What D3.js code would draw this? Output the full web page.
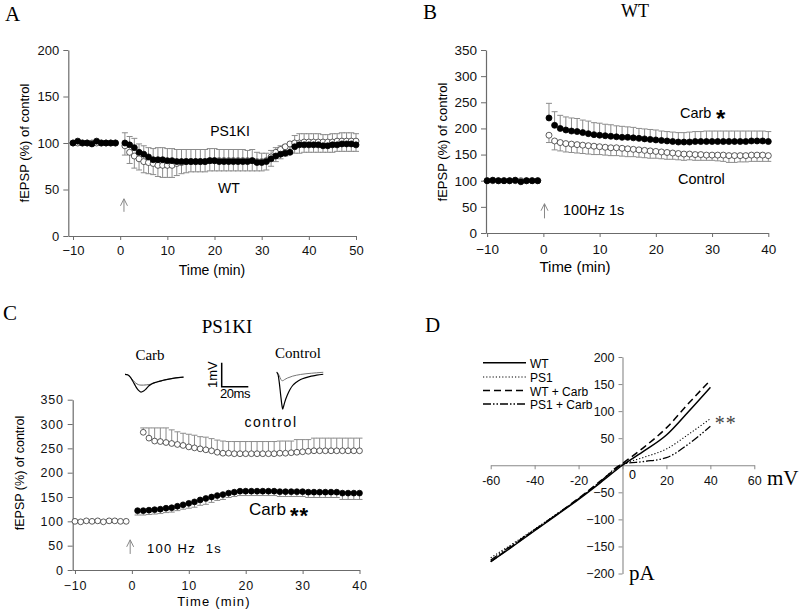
<!DOCTYPE html>
<html><head><meta charset="utf-8">
<script src="https://cdn.jsdelivr.net/npm/d3@7"></script>
<style>body{margin:0;background:#fff}</style>
</head><body>
<script>
// ---------------- DATA ----------------
const baseT = [-10,-9,-8,-7,-6,-5,-4,-3,-2,-1];
const tA = [1,2,3,4,5,6,7,8,9,10,11,12,13,14,15,16,17,18,19,20,21,22,23,24,25,26,27,28,29,30,31,32,33,34,35,36,37,38,39,40,41,42,43,44,45,46,47,48,49,50];
const t40 = [1,2,3,4,5,6,7,8,9,10,11,12,13,14,15,16,17,18,19,20,21,22,23,24,25,26,27,28,29,30,31,32,33,34,35,36,37,38,39,40];
const t40from2 = [2,3,4,5,6,7,8,9,10,11,12,13,14,15,16,17,18,19,20,21,22,23,24,25,26,27,28,29,30,31,32,33,34,35,36,37,38,39,40];

// Panel A
const A_ps1ki_base = [100,102,100,100,99,102,100,100,100,100];
const A_wt_base    = [100,100,100,100,100,100,100,100,100,100];
const A_ps1ki = [100,98,95,90,88,85,82,82,82,81, 81,80,80,80,80,80,80,80,81,81, 80,80,80,80,80,80,80,81,79,79, 80,83,86,88,89,90,96,98,98,98, 98,98,97,97,98,98,99,99,99,98];
const A_ps1ki_err = [11,9,10,9,9,10,12,13,13,13, 13,13,13,13,13,13,13,13,13,13, 13,13,13,13,13,13,12,12,11,10, 9,9,9,9,9,9,12,12,12,12, 12,12,12,12,12,12,12,12,12,12];
const A_wt = [97,90,86,83,80,79,78,76,76,76, 76,78,79,80,80,80,80,80,81,81, 81,81,81,81,81,81,81,81,80,80, 81,85,90,93,96,99,100,100,101,101, 101,101,101,101,101,102,102,102,102,102];
const A_wt_err = [10,12,13,12,12,12,12,12,13,13, 13,13,12,12,11,11,11,11,11,11, 11,11,11,11,11,11,11,11,10,10, 10,10,10,10,10,10,11,11,11,11, 11,11,11,11,11,11,11,11,11,11];
const A_xticks = [-10,0,10,20,30,40,50];
const A_yticks = [0,50,100,150,200];

// Panel B (WT)
const B_carb_base = [100,101,100,100,100,101,98,100,100,100];
const B_ctrl_base = [100,100,100,100,100,100,100,100,100,100];
const B_carb = [220,206,200,197,195,194,192,190,188,187, 186,185,184,183,183,182,181,180,179,178, 177,176,175,174,174,174,175,175,175,175, 175,175,175,175,175,175,176,176,176,175];
const B_carb_err = [28,26,25,25,25,25,24,24,23,23, 22,22,21,21,20,20,19,19,19,19, 18,18,18,18,18,19,19,19,20,20, 20,20,20,20,20,20,19,19,19,19];
const B_ctrl = [187,176,173,171,170,169,168,167,166,165, 164,163,163,162,161,160,159,158,157,156, 155,154,153,152,151,151,150,150,149,149, 149,149,148,148,148,148,149,149,149,148];
const B_ctrl_err = [14,17,16,16,16,16,16,16,16,15, 15,15,15,15,15,14,14,14,14,13, 13,13,12,12,12,11,11,11,10,10, 11,12,13,13,12,12,12,12,12,11];
const B_xticks = [-10,0,10,20,30,40];
const B_yticks = [0,50,100,150,200,250,300,350];

// Panel C (PS1KI)
const C_ctrl_base = [100,99,101,100,101,99,101,101,100,100];
const C_ctrl = [283,271,265,264,262,260,258,256,253,251,249,247,245,242,240,240, 239,239,239,239,239,239,239,239,240,240,241, 242,243,244, 245,245,245,245,245,245,245,245,245];
const C_ctrl_err = [9,21,27,28,30,28,26,25,26,26,25,26,25,25,25,24, 25,25,25,25,25,25,25,25, 25,25,24, 26,25,24, 26,26,26,26,26,26,26,26,26];
const C_carb = [122,122,123,124,125,127,128,131,134,137, 140,144,147,150,153,155,158,160,162,162, 162,162,162,162,162,161,161,161,161,161, 160,160,160,160,160,160,158,158,158,158];
const C_carb_err = [9,9,9,9,9,9,9,9,9,10, 11,11,12,11,10,10,9,9,9,9, 9,9,9,9,9,10,10,10,10,10, 11,11,11,11,11,11,13,13,13,13];
const C_xticks = [-10,0,10,20,30,40];
const C_yticks = [0,50,100,150,200,250,300,350];

// Inset traces (ms, mV)
const carbTraceT = [0,2,4,6,8,10,12,14,16,18,20,24,28,32,36,40,44];
const carbTraceAfter  = [0,-0.02,-0.12,-0.3,-0.5,-0.66,-0.74,-0.7,-0.6,-0.48,-0.4,-0.32,-0.26,-0.21,-0.17,-0.14,-0.12];
const carbTraceBefore = [0,-0.03,-0.12,-0.25,-0.36,-0.43,-0.45,-0.45,-0.44,-0.43,-0.4,-0.32,-0.26,-0.21,-0.17,-0.14,-0.12];
const ctrlTraceT = [0,1,2,3,4,4.5,5,6,8,10,12,15,18,22,26,30,35];
const ctrlTraceAfter  = [0,-0.1,-0.45,-0.95,-1.4,-1.54,-1.45,-1.25,-0.95,-0.72,-0.55,-0.4,-0.3,-0.22,-0.16,-0.12,-0.08];
const ctrlTraceBefore = [0,-0.05,-0.15,-0.28,-0.35,-0.35,-0.34,-0.3,-0.24,-0.2,-0.16,-0.12,-0.09,-0.06,-0.04,-0.02,0];

// Panel D (I-V)
const D_mV = [-60,-50,-40,-30,-20,-10,0,10,20,30,40];
const D_WT      = [-178,-150,-121,-92,-63,-32,0,27,56,99,144];
const D_PS1     = [-171,-145,-118,-90,-62,-31,1,15,30,57,86];
const D_WTcarb  = [-178,-149,-120,-91,-61,-29,3,34,69,114,157];
const D_PS1carb = [-175,-147,-119,-91,-62,-30,2,7,14,39,72];
const D_names = ["WT","PS1","WT + Carb","PS1 + Carb"];
const D_xticks = [-60,-40,-20,20,40,60];
const D_yticks = [-200,-150,-100,-50,50,100,150,200];

// ---------------- DRAWING ----------------
const SANS = "'Liberation Sans', Arial, sans-serif";
const SERIF = "'Liberation Serif', 'Times New Roman', serif";
const AX = "#6b6b6b", EB = "#8c8c8c";

const svg = d3.select("body").append("svg").attr("width",800).attr("height",612)
  .style("background","#fff");

function txt(x,y,s,size,fam,anchor,extra){
  const t = svg.append("text").attr("x",x).attr("y",y).text(s)
    .attr("font-size",size).attr("font-family",fam||SANS)
    .attr("text-anchor",anchor||"start").attr("fill","#000");
  if(extra) extra(t);
  return t;
}

function axes(x,y,xt,yt,opt){
  const gx = svg.append("g").attr("transform",`translate(0,${y(0)})`)
    .call(d3.axisBottom(x).tickValues(xt).tickSize(4).tickSizeOuter(0).tickPadding(opt.xpad));
  const gy = svg.append("g").attr("transform",`translate(${x.range()[0]},0)`)
    .call(d3.axisLeft(y).tickValues(yt).tickSize(5).tickSizeOuter(0).tickPadding(4));
  [gx,gy].forEach(g=>{
    g.attr("font-family",SANS).attr("font-size",opt.fs);
    g.select(".domain").attr("stroke",AX).attr("stroke-width",1.2);
    g.selectAll(".tick line").attr("stroke",AX);
    g.selectAll(".tick text").attr("fill","#111");
    if(opt.ls) g.selectAll(".tick text").attr("letter-spacing",opt.ls);
  });
}

function errBars(x,y,ts,vs,es,dir){
  const g = svg.append("g").attr("stroke",EB).attr("stroke-width",1).attr("fill","none");
  ts.forEach((t,i)=>{
    const y0 = y(vs[i]), y1 = y(vs[i]+dir*es[i]), xx = x(t);
    g.append("line").attr("x1",xx).attr("x2",xx).attr("y1",y0).attr("y2",y1);
    g.append("line").attr("x1",xx-3).attr("x2",xx+3).attr("y1",y1).attr("y2",y1);
  });
}
function dots(x,y,ts,vs,filled,r){
  svg.append("g").selectAll("circle").data(ts).join("circle")
    .attr("cx",d=>x(d)).attr("cy",(d,i)=>y(vs[i])).attr("r",r||3.0)
    .attr("fill",filled?"#000":"#fff").attr("stroke",filled?"#000":"#333").attr("stroke-width",0.8);
}
function arrow(x,y,t,v0,v1){
  const g = svg.append("g").attr("stroke","#888").attr("stroke-width",1).attr("fill","none");
  const xx=x(t), yb=y(v0), yt=y(v1);
  g.append("line").attr("x1",xx).attr("x2",xx).attr("y1",yb).attr("y2",yt);
  g.append("path").attr("d",`M${xx-3.5},${yt+7}L${xx},${yt}L${xx+3.5},${yt+7}`);
}
function yTitle(cx,cy,size){
  svg.append("text").attr("transform",`translate(${cx},${cy}) rotate(-90)`)
    .attr("text-anchor","middle").attr("dy","0.35em").attr("font-size",size)
    .attr("font-family",SANS).text("fEPSP (%) of control");
}

// ===== Panel A =====
{
  const x = d3.scaleLinear().domain([-11,50]).range([68.3,356]);
  const y = d3.scaleLinear().domain([0,200]).range([236,50]);
  axes(x,y,A_xticks,A_yticks,{xpad:6,fs:13});
  errBars(x,y,tA,A_wt,A_wt_err,-1);
  errBars(x,y,tA,A_ps1ki,A_ps1ki_err,1);
  dots(x,y,baseT,A_wt_base,false);
  dots(x,y,tA,A_wt,false);
  dots(x,y,baseT,A_ps1ki_base,true);
  dots(x,y,tA,A_ps1ki,true);
  arrow(x,y,0.8,26,40);
  txt(5,21,"A",21,SERIF);
  txt(230,136,"PS1KI",14,SANS,"middle");
  txt(229,193,"WT",14,SANS,"middle");
  txt(212,275,"Time (min)",14,SANS,"middle");
  yTitle(24,143,13);
}

// ===== Panel B =====
{
  const x = d3.scaleLinear().domain([-10.2,40]).range([486,768.3]);
  const y = d3.scaleLinear().domain([0,350]).range([233,50]);
  axes(x,y,B_xticks,B_yticks,{xpad:7,fs:13.5});
  errBars(x,y,t40,B_ctrl,B_ctrl_err,-1);
  errBars(x,y,t40,B_carb,B_carb_err,1);
  dots(x,y,baseT,B_ctrl_base,false);
  dots(x,y,t40,B_ctrl,false);
  dots(x,y,baseT,B_carb_base,true);
  dots(x,y,t40,B_carb,true);
  arrow(x,y,0.2,28,56);
  txt(423,19,"B",21,SERIF);
  txt(635,17,"WT",18,SERIF,"middle");
  txt(680,118,"Carb",14.5,SANS);
  txt(716,127,"*",24,SANS,"start",t=>t.attr("font-weight","bold"));
  txt(678,184,"Control",14.5,SANS);
  txt(563,215,"100Hz 1s",14.5,SANS);
  txt(575,272,"Time (min)",15,SANS,"middle");
  yTitle(442,142,13);
}

// ===== Panel C =====
{
  const x = d3.scaleLinear().domain([-10.4,40]).range([72.7,359.5]);
  const y = d3.scaleLinear().domain([0,350]).range([570,399.7]);
  axes(x,y,C_xticks,C_yticks,{xpad:7,fs:12.5,ls:"0.8px"});
  errBars(x,y,t40from2,C_ctrl,C_ctrl_err,1);
  errBars(x,y,t40,C_carb,C_carb_err,-1);
  dots(x,y,t40from2,C_ctrl,false,2.9);
  dots(x,y,t40,C_carb,true,2.9);
  dots(x,y,baseT,C_ctrl_base,false,2.9);
  arrow(x,y,-0.3,33,62);
  txt(3,320,"C",21,SERIF);
  txt(227,333,"PS1KI",19,SERIF,"middle");
  txt(271,427,"control",14,SANS,"middle",t=>t.attr("letter-spacing","1.6px"));
  txt(249,515,"Carb",17,SANS);
  txt(290,523,"**",22,SANS,"start",t=>t.attr("font-weight","bold").attr("letter-spacing","1px"));
  txt(147,553,"100 Hz  1s",13,SANS,"start",t=>t.attr("letter-spacing","1.3px").style("white-space","pre"));
  txt(214,606,"Time (min)",13,SANS,"middle",t=>t.attr("letter-spacing","1.2px"));
  yTitle(20,473,12.5);

  // Insets: traces
  const msPx = 1.33, mvPx = 24;
  const tx1 = d3.scaleLinear().domain([0,1]).range([125,125+msPx]);
  const ty1 = d3.scaleLinear().domain([0,1]).range([374.3,374.3-mvPx]);
  const tx2 = d3.scaleLinear().domain([0,1]).range([276.7,276.7+msPx]);
  const ty2 = d3.scaleLinear().domain([0,1]).range([372.3,372.3-mvPx]);
  const ln = (xs,ys,T)=>d3.line().x((d,i)=>xs(T[i])).y(d=>ys(d)).curve(d3.curveMonotoneX);
  svg.append("path").attr("d",ln(tx1,ty1,carbTraceT)(carbTraceBefore)).attr("fill","none").attr("stroke","#666").attr("stroke-width",1);
  svg.append("path").attr("d",ln(tx1,ty1,carbTraceT)(carbTraceAfter)).attr("fill","none").attr("stroke","#000").attr("stroke-width",1.2);
  svg.append("path").attr("d",ln(tx2,ty2,ctrlTraceT)(ctrlTraceBefore)).attr("fill","none").attr("stroke","#777").attr("stroke-width",1);
  svg.append("path").attr("d",ln(tx2,ty2,ctrlTraceT)(ctrlTraceAfter)).attr("fill","none").attr("stroke","#000").attr("stroke-width",1.2);
  // scale bar: 20 ms x 1 mV
  const bx = 221.7, by = 386.7;
  svg.append("path").attr("d",`M${bx},${by - 1*mvPx}V${by}H${bx + 20*msPx}`)
    .attr("fill","none").attr("stroke","#000").attr("stroke-width",1.5);
  svg.append("text").attr("transform",`translate(${bx-5},${by-12}) rotate(-90)`)
    .attr("text-anchor","middle").attr("font-size",13).attr("font-family",SANS).text("1mV");
  txt(235,398,"20ms",13,SANS,"middle",t=>t.attr("letter-spacing","-0.5px"));
  txt(150,360,"Carb",15,SERIF,"middle");
  txt(298,358,"Control",15,SERIF,"middle");
}

// ===== Panel D =====
{
  const x = d3.scaleLinear().domain([-60,60]).range([490.7,754.3]);
  const y = d3.scaleLinear().domain([-200,200]).range([573.5,357]);
  const gx = svg.append("g").attr("transform",`translate(0,${y(0)})`)
    .call(d3.axisBottom(x).tickValues(D_xticks.concat([0])).tickSize(4).tickSizeOuter(0).tickPadding(7)
      .tickFormat(d=>d===0?"":d));
  const gy = svg.append("g").attr("transform",`translate(${x(0)},0)`)
    .call(d3.axisLeft(y).tickValues(D_yticks).tickSize(4).tickSizeOuter(0).tickPadding(4));
  [gx,gy].forEach(g=>{
    g.attr("font-family",SANS).attr("font-size",12.5);
    g.select(".domain").attr("stroke","#888").attr("stroke-width",1.1);
    g.selectAll(".tick line").attr("stroke","#888");
    g.selectAll(".tick text").attr("fill","#111");
  });
  txt(x(0)+10,y(0)+14,"0",12.5,SANS,"middle");

  const series = [D_WT,D_PS1,D_WTcarb,D_PS1carb];
  const dash = [null,"1.2,2","7,4","8,2,1.5,2,1.5,2"];
  const widths = [1.5,1.1,1.5,1.3];
  const line = d3.line().x((d,i)=>x(D_mV[i])).y(d=>y(d)).curve(d3.curveMonotoneX);
  series.forEach((s,k)=>{
    svg.append("path").attr("d",line(s)).attr("fill","none").attr("stroke","#000")
      .attr("stroke-width",widths[k]).attr("stroke-dasharray",dash[k]);
  });
  // legend
  const ly = [362.7,377,390.5,404];
  D_names.forEach((n,k)=>{
    svg.append("line").attr("x1",483).attr("x2",526).attr("y1",ly[k]).attr("y2",ly[k])
      .attr("stroke","#000").attr("stroke-width",widths[k]).attr("stroke-dasharray",dash[k]);
    txt(530,ly[k]+5,n,12,SANS);
  });
  txt(x(42),y(87)+12,"**",20,SERIF,"start",t=>t.attr("fill","#444").attr("letter-spacing","1px"));
  txt(425,332,"D",21,SERIF);
  txt(767,485,"mV",21,SERIF);
  txt(629,580,"pA",21,SERIF);
}
</script>
</body></html>
